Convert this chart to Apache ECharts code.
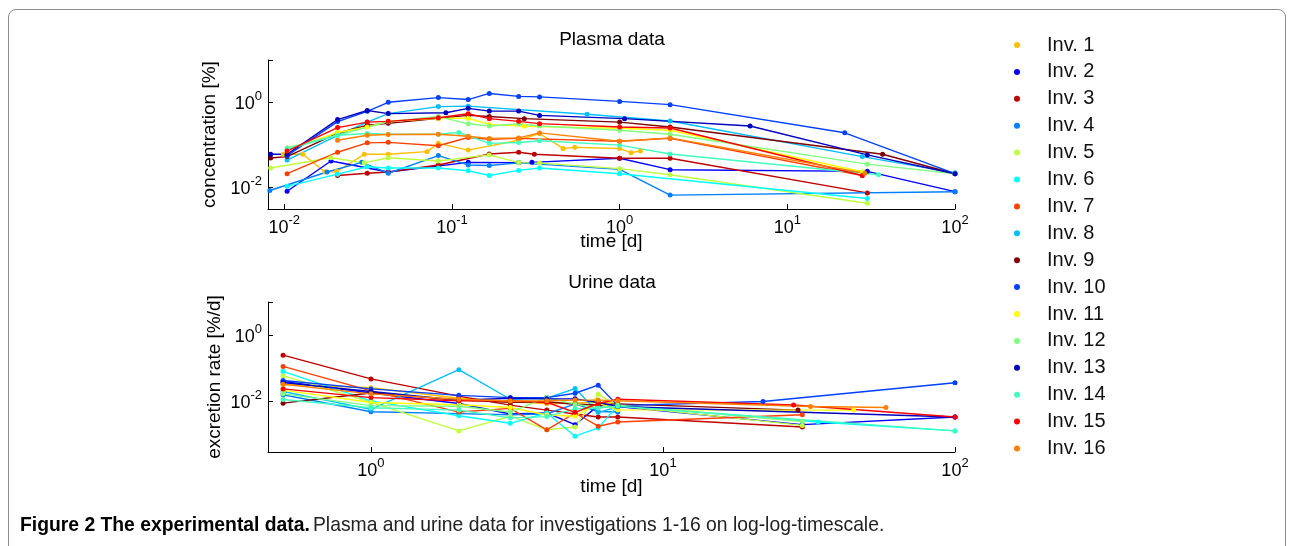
<!DOCTYPE html>
<html>
<head>
<meta charset="utf-8">
<script src="https://cdn.jsdelivr.net/npm/echarts@6/dist/echarts.min.js"></script>
<style>
  html, body { margin: 0; padding: 0; background: #fff; width: 1292px; height: 546px; overflow: hidden; }
  #frame { position: absolute; left: 8px; top: 9px; width: 1276px; height: 600px; border: 1px solid #8c8c8c; border-radius: 8px; }
  #chart { position: absolute; left: 0; top: 0; width: 1292px; height: 546px; }
</style>
</head>
<body>
<div id="frame"></div>
<div id="chart"></div>
<script>
const names = ['Inv. 1', 'Inv. 2', 'Inv. 3', 'Inv. 4', 'Inv. 5', 'Inv. 6', 'Inv. 7', 'Inv. 8',
  'Inv. 9', 'Inv. 10', 'Inv. 11', 'Inv. 12', 'Inv. 13', 'Inv. 14', 'Inv. 15', 'Inv. 16']
const colors = ['#ffbf00', '#0000ff', '#bf0000', '#0080ff', '#bfff40', '#00ffff', '#ff4000', '#00bfff',
  '#800000', '#0040ff', '#ffff00', '#80ff80', '#0000bf', '#40ffbf', '#ff0000', '#ff8000']

// plasma: time [d] and concentration [%], one row per investigation
const plasmaTime = [
  [0.0099, 0.0129, 0.0175, 0.0205, 0.03, 0.0417, 0.071, 0.083, 0.125, 0.25, 0.333, 0.46, 0.54, 1, 1.17, 1.33],
  [0.0104, 0.019, 0.0417, 0.125, 0.25, 0.3, 1, 2, 30, 100],
  [0.0208, 0.03125, 0.0417, 0.083, 0.167, 0.25, 0.31, 1, 2, 30],
  [0.0082, 0.018, 0.029, 0.0417, 0.083, 0.125, 0.167, 0.25, 1, 2, 100],
  [0.0083, 0.019, 0.03, 0.0417, 0.083, 0.167, 0.25, 0.333, 1, 2, 30],
  [0.0104, 0.0208, 0.03125, 0.0417, 0.083, 0.125, 0.167, 0.25, 0.333, 1, 30],
  [0.0104, 0.0208, 0.03125, 0.0417, 0.083, 0.125, 0.167, 0.25, 1, 2, 28],
  [0.0104, 0.0208, 0.03125, 0.0417, 0.083, 0.125, 0.64, 2, 28, 100],
  [0.0083, 0.0104, 0.0208, 0.03125, 0.0417, 0.083, 0.125, 0.167, 0.27, 1, 2, 37, 100],
  [0.0104, 0.0208, 0.03125, 0.0417, 0.083, 0.125, 0.167, 0.25, 0.333, 1, 2, 22, 100],
  [0.0104, 0.0208, 0.03125, 0.0417, 0.083, 0.125, 0.167, 0.27, 1, 2, 28],
  [0.0104, 0.0208, 0.0417, 0.083, 0.125, 0.167, 0.25, 0.333, 1, 2, 30, 100],
  [0.0083, 0.0104, 0.0208, 0.03125, 0.0417, 0.092, 0.125, 0.167, 0.25, 0.333, 1.07, 6, 30, 100],
  [0.0104, 0.0208, 0.03125, 0.0417, 0.083, 0.11, 0.167, 0.25, 0.333, 1, 2, 35],
  [0.0104, 0.0208, 0.03125, 0.0417, 0.083, 0.125, 0.167, 0.25, 0.333, 1, 2, 28],
  [0.0208, 0.03125, 0.0417, 0.083, 0.125, 0.167, 0.25, 0.333, 1, 2, 29]
]
const plasmaConc = [
  [0.059, 0.059, 0.0225, 0.023, 0.059, 0.059, 0.068, 0.107, 0.074, 0.127, 0.183, 0.081, 0.086, 0.081, 0.064, 0.071],
  [0.0079, 0.041, 0.0225, 0.038, 0.0375, 0.038, 0.0475, 0.0255, 0.0233, 0.0077],
  [0.0186, 0.021, 0.0225, 0.033, 0.06, 0.066, 0.059, 0.0475, 0.0475, 0.0072],
  [0.0082, 0.0225, 0.038, 0.021, 0.055, 0.033, 0.032, 0.037, 0.026, 0.0064, 0.0077],
  [0.028, 0.049, 0.037, 0.049, 0.041, 0.057, 0.0375, 0.0365, 0.027, 0.0194, 0.0041],
  [0.0103, 0.02, 0.03, 0.028, 0.028, 0.024, 0.0186, 0.0245, 0.028, 0.0205, 0.0053],
  [0.0205, 0.066, 0.11, 0.113, 0.094, 0.147, 0.134, 0.14, 0.12, 0.14, 0.0186],
  [0.043, 0.166, 0.34, 0.54, 0.79, 0.81, 0.52, 0.36, 0.052, 0.0215],
  [0.048, 0.052, 0.186, 0.286, 0.318, 0.416, 0.49, 0.46, 0.41, 0.34, 0.26, 0.059, 0.0205],
  [0.055, 0.35, 0.61, 1.0, 1.29, 1.16, 1.62, 1.38, 1.34, 1.05, 0.88, 0.19, 0.0205],
  [0.074, 0.193, 0.26, 0.354, 0.416, 0.42, 0.3, 0.27, 0.243, 0.218, 0.0228],
  [0.084, 0.166, 0.35, 0.46, 0.31, 0.275, 0.31, 0.275, 0.218, 0.176, 0.0345, 0.0205],
  [0.059, 0.059, 0.39, 0.64, 0.54, 0.565, 0.72, 0.62, 0.62, 0.49, 0.41, 0.275, 0.057, 0.0205],
  [0.078, 0.166, 0.183, 0.176, 0.176, 0.193, 0.107, 0.112, 0.123, 0.097, 0.06, 0.0194],
  [0.0705, 0.252, 0.34, 0.354, 0.43, 0.535, 0.41, 0.354, 0.313, 0.26, 0.247, 0.0186],
  [0.127, 0.166, 0.173, 0.176, 0.158, 0.14, 0.144, 0.189, 0.12, 0.144, 0.021]
]

// urine: time [d] and excretion rate [%/d]
const urineTime = [
  [0.5, 1, 2, 3, 4, 5, 6, 7],
  [0.5, 1, 2, 3, 4, 5, 6, 7, 30, 100],
  [0.5, 1, 2, 3, 4, 5, 6, 7, 30],
  [0.5, 1, 2, 3, 4, 5, 6, 7],
  [0.5, 1, 2, 3, 4, 5, 6, 7, 30],
  [0.5, 1, 2, 3, 4, 5, 6, 7, 34, 100],
  [0.5, 1, 2, 3, 4, 5, 6, 7, 30],
  [0.5, 1, 2, 3, 4, 5, 6, 7],
  [0.5, 1, 2, 3, 4, 5, 6, 7, 29],
  [0.5, 1, 2, 3, 4, 5, 6, 7, 22, 100],
  [0.5, 1, 2, 3, 4, 5, 6, 7, 45],
  [0.5, 1, 2, 3, 4, 5, 6, 7, 30],
  [0.5, 1, 2, 3, 4, 5, 6, 7, 100],
  [0.5, 1, 2, 3, 4, 5, 6, 7, 100],
  [0.5, 1, 2, 3, 4, 5, 6, 7, 28, 100],
  [0.5, 1, 2, 3, 4, 5, 6, 7, 32, 58]
]
const urineRate = [
  [0.033, 0.026, 0.0125, 0.01, 0.0085, 0.009, 0.0095, 0.0088],
  [0.04, 0.018, 0.0087, 0.0042, 0.0045, 0.002, 0.0075, 0.007, 0.002, 0.0034],
  [0.25, 0.048, 0.0145, 0.0078, 0.0055, 0.0042, 0.0034, 0.0034, 0.0017],
  [0.016, 0.0049, 0.0043, 0.004, 0.0042, 0.0085, 0.005, 0.0048],
  [0.06, 0.0095, 0.0013, 0.0036, 0.0014, 0.0017, 0.0164, 0.0075, 0.0019],
  [0.081, 0.0104, 0.0037, 0.0022, 0.0045, 0.0009, 0.0016, 0.0075, 0.0024, 0.0013],
  [0.114, 0.021, 0.0048, 0.0062, 0.0014, 0.0045, 0.0018, 0.0024, 0.004],
  [0.02, 0.0058, 0.091, 0.0117, 0.0125, 0.0245, 0.0047, 0.0068],
  [0.0089, 0.018, 0.011, 0.0095, 0.0098, 0.0083, 0.0078, 0.0085, 0.0055],
  [0.043, 0.024, 0.0153, 0.0131, 0.0131, 0.0177, 0.031, 0.0075, 0.01, 0.0366],
  [0.022, 0.0093, 0.008, 0.0066, 0.0039, 0.0036, 0.009, 0.0056, 0.0055],
  [0.017, 0.0075, 0.0072, 0.0048, 0.0131, 0.0083, 0.0065, 0.0078, 0.0025],
  [0.037, 0.02, 0.011, 0.0125, 0.012, 0.012, 0.0093, 0.0071, 0.0034],
  [0.0115, 0.0065, 0.0055, 0.0032, 0.0035, 0.006, 0.0065, 0.0072, 0.0013],
  [0.024, 0.0131, 0.0105, 0.0105, 0.0095, 0.0047, 0.0087, 0.0117, 0.0078, 0.0034],
  [0.033, 0.017, 0.0117, 0.0104, 0.0105, 0.011, 0.011, 0.0105, 0.0071, 0.0066]
]

const font = 'Liberation Sans, Arial, Helvetica, sans-serif'
const pair = (ts, vs) => ts.map((t, i) => [t, vs[i]])

// label only powers of ten, every `step`-th decade
function powLabel(step) {
  return v => {
    const l = Math.log10(v)
    const e = Math.round(l)
    if (Math.abs(l - e) > 1e-6 || e % step !== 0) return ''
    return '{b|10}{s|' + e + '}'
  }
}
const labelRich = {
  b: { fontSize: 18, lineHeight: 24, verticalAlign: 'bottom', fontFamily: font, color: '#000' },
  s: { fontSize: 13, height: 14.5, lineHeight: 14.5, verticalAlign: 'top', fontFamily: font, color: '#000' }
}
const axisLine = { lineStyle: { color: '#000', width: 1 } }
const axisTick = { inside: true, length: 5, lineStyle: { color: '#000' } }
const nameStyle = { fontSize: 19, color: '#000', fontFamily: font }

function xAxis(idx, min, gap) {
  return {
    type: 'log', gridIndex: idx, min: min, max: 100, logBase: 10,
    name: 'time [d]', nameLocation: 'middle', nameGap: gap, nameMoveOverlap: false, nameTextStyle: nameStyle,
    axisLine, axisTick, splitLine: { show: false },
    axisLabel: { formatter: powLabel(1), rich: labelRich, margin: 4 }
  }
}
function yAxis(idx, min, name, gap) {
  return {
    type: 'log', gridIndex: idx, min: min, max: 10, logBase: 100,
    name: name, nameLocation: 'middle', nameGap: gap, nameMoveOverlap: false, nameTextStyle: nameStyle,
    axisLine, axisTick, splitLine: { show: false },
    axisLabel: { formatter: powLabel(2), rich: labelRich, margin: 6, padding: [0, 0, 2, 0] }
  }
}

const series = []
names.forEach((n, i) => {
  const common = {
    name: n, type: 'line', symbol: 'circle', symbolSize: 5, color: colors[i],
    lineStyle: { width: 1.4 }, emphasis: { disabled: true }
  }
  series.push({ ...common, xAxisIndex: 0, yAxisIndex: 0, data: pair(plasmaTime[i], plasmaConc[i]) })
  series.push({ ...common, xAxisIndex: 1, yAxisIndex: 1, data: pair(urineTime[i], urineRate[i]) })
})

const chart = echarts.init(document.getElementById('chart'))
chart.setOption({
  animation: false,
  textStyle: { fontFamily: font },
  grid: [
    { left: 268, width: 687, top: 60, height: 149 },
    { left: 268, width: 687, top: 302, height: 150 }
  ],
  xAxis: [xAxis(0, 0.008, 23.5), xAxis(1, 0.444, 25.5)],
  yAxis: [yAxis(0, 0.003, 'concentration [%]', 49), yAxis(1, 0.0003, 'excretion rate [%/d]', 44)],
  legend: {
    orient: 'vertical', left: 1009, top: 30, icon: 'circle',
    itemWidth: 50, itemHeight: 6, itemGap: 6.9, selectedMode: false,
    textStyle: { fontSize: 20, lineHeight: 20, color: '#111', fontFamily: font },
    data: names
  },
  graphic: [
    { type: 'text', x: 612, y: 40, style: { text: 'Plasma data', align: 'center', verticalAlign: 'middle', font: '19px ' + font, fill: '#000' } },
    { type: 'text', x: 612, y: 283, style: { text: 'Urine data', align: 'center', verticalAlign: 'middle', font: '19px ' + font, fill: '#000' } },
    {
      type: 'text', x: 20, y: 525, scaleX: 0.92,
      style: {
        text: '{b|Figure 2 The experimental data.} {r|Plasma and urine data for investigations 1-16 on log-log-timescale.}',
        verticalAlign: 'middle',
        rich: {
          b: { fontSize: 21, fontWeight: 'bold', fontFamily: font, fill: '#000' },
          r: { fontSize: 21, fontFamily: font, fill: '#222' }
        }
      }
    }
  ],
  series
})
</script>
</body>
</html>
